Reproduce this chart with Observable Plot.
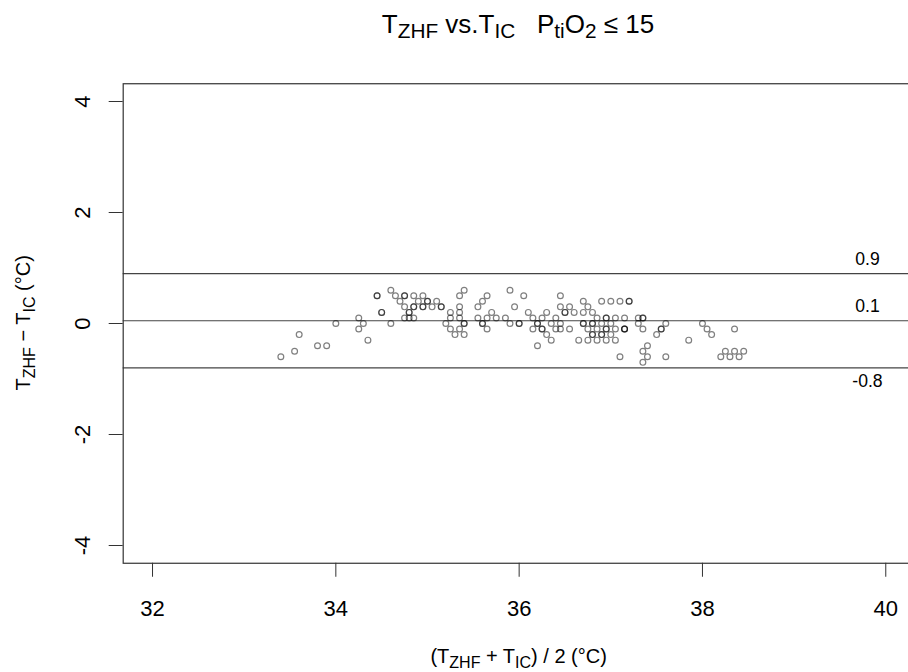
<!DOCTYPE html>
<html><head><meta charset="utf-8">
<script src="https://cdn.jsdelivr.net/npm/d3@7"></script>
<script src="https://cdn.jsdelivr.net/npm/@observablehq/plot@0.6"></script>
<style>
html,body{margin:0;padding:0;background:#fff;}
body{width:908px;height:672px;overflow:hidden;font-family:"Liberation Sans",Arial,Helvetica,sans-serif;}
#title{position:relative;height:60px;width:908px;}
#title div{position:absolute;left:128px;right:0;top:10.7px;text-align:center;font-size:26px;line-height:1;color:#000;white-space:nowrap;}
#title sub{font-size:0.8em;line-height:0;vertical-align:-0.23em;}
#chart svg{overflow:hidden;display:block;}
</style></head><body>
<div id="title"><div>T<sub>ZHF</sub> vs.T<sub>IC</sub>&nbsp;&nbsp;&nbsp;P<sub>ti</sub>O<sub>2</sub> ≤ 15</div></div>
<div id="chart"></div>
<script>
// (T_ZHF + T_IC)/2, °C
const meanTemp = [
  33.4, 33.55, 33.6, 33.8, 33.9, 34.0, 34.25, 34.3, 34.25, 34.35,
  34.45, 34.45, 34.5, 34.5, 34.6, 34.6, 34.65, 34.7, 34.75, 34.75,
  34.85, 34.95, 34.75, 34.85, 34.85, 34.95, 34.95, 34.8, 34.8, 34.9,
  35.0, 35.0, 35.05, 35.1, 35.15, 35.15, 34.75, 34.8, 34.85, 35.2,
  35.25, 35.25, 35.25, 35.3, 35.35, 35.35, 35.35, 35.35, 35.35, 35.4,
  35.4, 35.4, 35.4, 35.55, 35.6, 35.65, 35.55, 35.65, 35.7, 35.6,
  35.6, 35.65, 35.75, 35.85, 35.9, 36.0, 36.0, 35.9, 35.95, 36.05,
  36.1, 36.15, 36.15, 36.2, 36.2, 36.2, 36.25, 36.25, 36.25, 36.3,
  36.3, 36.35, 36.35, 36.4, 36.45, 36.45, 36.55, 36.5, 36.5, 36.6,
  36.45, 36.4, 36.45, 36.55, 36.7, 36.75, 36.7, 36.8, 36.9, 37.0,
  37.1, 37.2, 37.2, 36.85, 36.95, 36.95, 37.05, 37.15, 37.3, 37.35,
  37.35, 36.7, 36.7, 36.8, 36.8, 36.9, 37.0, 37.3, 36.75, 36.85,
  36.95, 36.95, 37.05, 37.15, 37.15, 37.15, 37.35, 36.8, 36.8, 36.9,
  36.9, 37.0, 36.65, 36.75, 36.85, 36.95, 37.05, 37.1, 37.4, 37.35,
  37.4, 37.35, 37.5, 37.55, 37.55, 37.6, 37.6, 37.85, 38.0, 38.05,
  38.1, 38.35, 38.25, 38.35, 38.45, 38.2, 38.3, 38.4
];
// T_ZHF - T_IC, °C
const diffTemp = [
  -0.6, -0.5, -0.2, -0.4, -0.4, 0.0, 0.1, 0.0, -0.1, -0.3,
  0.5, 0.5, 0.2, 0.2, 0.0, 0.6, 0.5, 0.4, 0.5, 0.5,
  0.5, 0.5, 0.3, 0.3, 0.3, 0.3, 0.3, 0.2, 0.2, 0.4,
  0.4, 0.4, 0.3, 0.4, 0.3, 0.3, 0.1, 0.1, 0.1, 0.0,
  0.1, 0.2, -0.1, -0.2, 0.1, -0.1, 0.2, 0.3, 0.5, 0.6,
  0.0, 0.0, -0.2, 0.3, 0.4, 0.5, 0.1, 0.1, 0.2, 0.0,
  0.0, -0.1, 0.1, 0.1, 0.0, 0.0, 0.0, 0.6, 0.3, 0.5,
  0.2, 0.1, -0.1, 0.0, 0.0, -0.4, 0.1, -0.1, -0.1, 0.2,
  -0.2, 0.0, -0.3, 0.1, 0.5, 0.3, 0.3, 0.2, 0.2, 0.2,
  0.0, -0.1, -0.1, -0.1, 0.4, 0.3, 0.2, 0.2, 0.4, 0.4,
  0.4, 0.4, 0.4, 0.1, 0.1, 0.1, 0.1, 0.1, 0.1, 0.1,
  0.1, 0.0, 0.0, 0.0, 0.0, 0.0, 0.0, 0.0, -0.1, -0.1,
  -0.1, -0.1, -0.1, -0.1, -0.1, -0.1, -0.1, -0.2, -0.2, -0.2,
  -0.2, -0.2, -0.3, -0.3, -0.3, -0.3, -0.3, -0.6, -0.4, -0.5,
  -0.6, -0.7, -0.2, -0.1, -0.1, 0.0, -0.6, -0.3, 0.0, -0.1,
  -0.2, -0.1, -0.5, -0.5, -0.5, -0.6, -0.6, -0.6
];
const xTicks = [32, 34, 36, 38, 40];
const yTicks = [-4, -2, 0, 2, 4];
// mean difference and limits of agreement
const limitValues = [0.9, 0.05, -0.8];
const limitLabels = ["0.9", "0.1", "-0.8"];

const points = meanTemp.map((m, i) => ({m, d: diffTemp[i]}));
const limits = limitValues.map((v, i) => ({v, label: limitLabels[i]}));

const W = 908, H = 612, offsetTop = 60;
const chart = Plot.plot({
  width: W, height: H,
  marginLeft: 122.7, marginRight: W - 914.6, marginTop: 23.24, marginBottom: 109.24,
  x: {domain: [31.68, 40.32], label: null},
  y: {domain: [-4.32, 4.32], label: null},
  style: {fontFamily: '"Liberation Sans", Arial, Helvetica, sans-serif', fontSize: "22px", color: "#000", background: "#fff", overflow: "hidden"},
  marks: [
    Plot.ruleY(limits, {y: "v", stroke: "#444", strokeWidth: 1.2}),
    Plot.dot(points, {x: "m", y: "d", r: 2.9, stroke: "#000", strokeOpacity: 0.5, strokeWidth: 1.2, fill: "none"}),
    Plot.frame({stroke: "#333", strokeWidth: 1.2}),
    Plot.axisX(xTicks, {tickSize: 14, tickPadding: 23.4, stroke: "#333", fill: "#000", fontSize: 22, tickFormat: d => String(d), label: null}),
    Plot.axisY(yTicks, {tickSize: 14, tickPadding: 19.7, tickRotate: -90, textAnchor: "middle", lineAnchor: "bottom", stroke: "#333", fill: "#000", fontSize: 22, tickFormat: d => String(d), label: null}),
    Plot.text(limits.filter(d => d.v > 0), {x: () => 39.8, y: "v", text: "label", fontSize: 17.6, fill: "#000", textAnchor: "middle", lineAnchor: "bottom", dy: -9}),
    Plot.text(limits.filter(d => d.v < 0), {x: () => 39.8, y: "v", text: "label", fontSize: 17.6, fill: "#000", textAnchor: "middle", lineAnchor: "bottom", dy: 19})
  ]
});
document.getElementById("chart").appendChild(chart);

// axis titles with subscripts
const svg = d3.select(chart);
const fs = 20, sub = 0.8 * fs, shift = 4.6;
const cx = (122.7 + 914.6) / 2;
const xl = svg.append("text")
  .attr("x", cx).attr("y", 663 - offsetTop)
  .attr("text-anchor", "middle").attr("font-size", fs).attr("fill", "#000")
  .style("white-space", "pre");
xl.append("tspan").text("(T");
xl.append("tspan").attr("font-size", sub).attr("dy", shift).text("ZHF");
xl.append("tspan").attr("dy", -shift).text(" + T");
xl.append("tspan").attr("font-size", sub).attr("dy", shift).text("IC");
xl.append("tspan").attr("dy", -shift).text(") / 2 (°C)");

const yl = svg.append("text")
  .attr("transform", `translate(30,${322.8 - offsetTop}) rotate(-90)`)
  .attr("text-anchor", "middle").attr("font-size", fs).attr("fill", "#000")
  .style("white-space", "pre");
yl.append("tspan").text("T");
yl.append("tspan").attr("font-size", sub).attr("dy", shift).text("ZHF");
yl.append("tspan").attr("dy", -shift).text(" − T");
yl.append("tspan").attr("font-size", sub).attr("dy", shift).text("IC");
yl.append("tspan").attr("dy", -shift).text(" (°C)");
</script>
</body></html>
